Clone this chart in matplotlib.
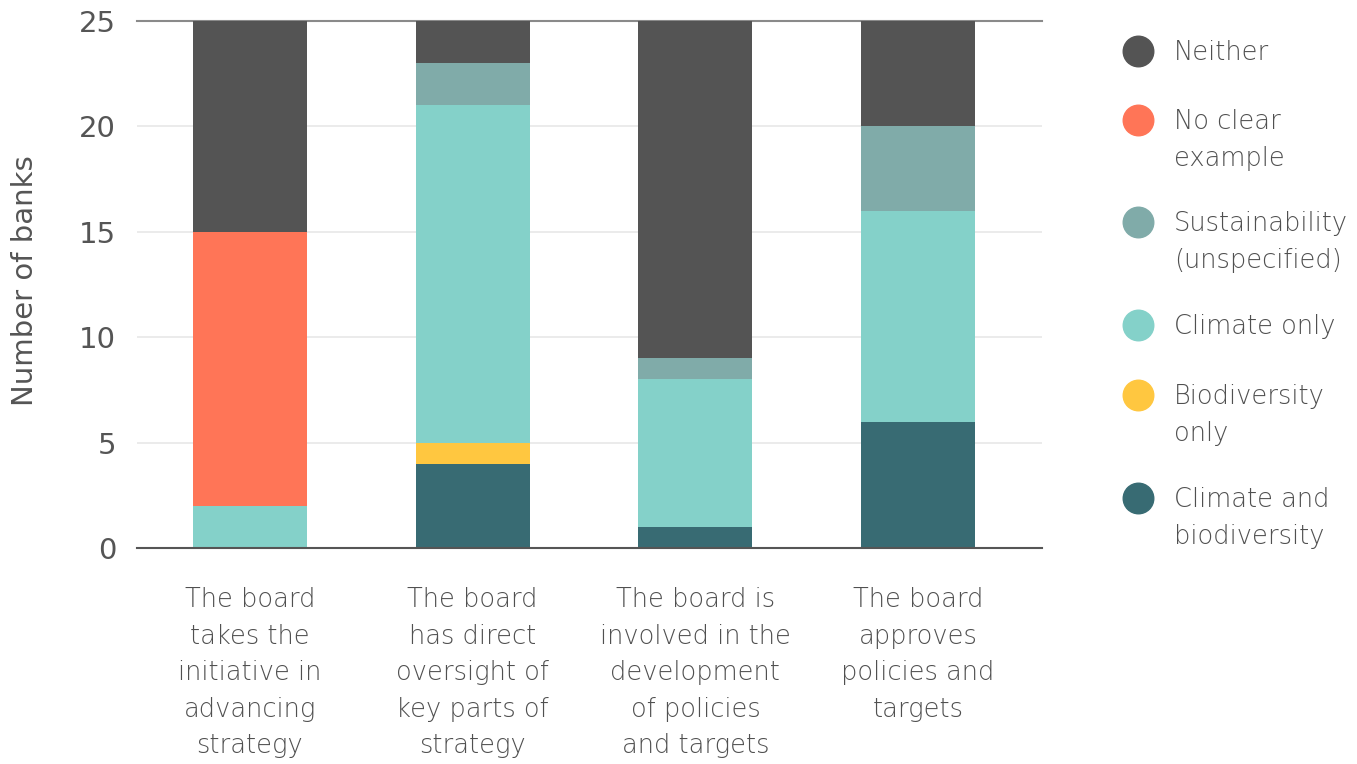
import matplotlib
matplotlib.use("Agg")
import matplotlib.pyplot as plt
import numpy as np

# ================= DADOS =================
categorias = [
    "The board\ntakes the\ninitiative in\nadvancing\nstrategy",
    "The board\nhas direct\noversight of\nkey parts of\nstrategy",
    "The board is\ninvolved in the\ndevelopment\nof policies\nand targets",
    "The board\napproves\npolicies and\ntargets",
]
# da base para o topo
series = ["Climate and\nbiodiversity", "Biodiversity\nonly", "Climate only",
          "Sustainability\n(unspecified)", "No clear\nexample", "Neither"]
clima_bio = [0, 4, 1, 6]
bio_only = [0, 1, 0, 0]
clima_only = [2, 16, 7, 10]
sustent = [0, 2, 1, 4]
sem_exemplo = [13, 0, 0, 0]
nenhum = [10, 2, 16, 5]
valores = [clima_bio, bio_only, clima_only, sustent, sem_exemplo, nenhum]
cores = ["#386B73", "#FFC740", "#84D1C9", "#80ABA9", "#FF7557", "#545454"]
yticks = [0, 5, 10, 15, 20, 25]

cinza = "#555555"
fonte = "DejaVu Sans"

# ================= FIGURA =================
fig = plt.figure(figsize=(13.57, 7.64), dpi=100)
ax = fig.add_axes([0.101, 0.2827, 0.667, 0.6898])

x = np.arange(len(categorias))
base = np.zeros(len(categorias))
for vals, cor in zip(valores, cores):
    ax.bar(x, vals, bottom=base, width=0.512, color=cor, zorder=3)
    base += np.array(vals)

ax.set_xlim(-0.507, 3.557)
ax.set_ylim(0, 25)
ax.set_yticks(yticks)
ax.set_yticklabels([str(t) for t in yticks], fontsize=21, color=cinza, family=fonte)
ax.tick_params(axis="y", length=0, pad=15)
ax.set_xticks(x)
ax.set_xticklabels(categorias, fontsize=18.5, color="#505050", family=fonte,
                   fontweight="light", linespacing=1.58)
ax.tick_params(axis="x", length=0, pad=28)

for t in yticks[1:-1]:
    ax.axhline(t, color="#e8e8e8", lw=1.2, zorder=1)

for s in ["left", "right"]:
    ax.spines[s].set_visible(False)
ax.spines["top"].set_color("#8a8a8a")
ax.spines["top"].set_linewidth(1.5)
ax.spines["bottom"].set_color(cinza)
ax.spines["bottom"].set_linewidth(1.5)
ax.spines["bottom"].set_zorder(4)

ax.set_ylabel("Number of banks", fontsize=21, color=cinza, family=fonte)
ax.yaxis.set_label_coords(-0.108, 0.508)

# ================= LEGENDA =================
W, H = 1357, 764
y_px = [51, 120, 222, 325, 395, 498]
for nome, cor, yp in zip(series[::-1], cores[::-1], y_px):
    fy = 1 - yp / H
    fig.add_artist(plt.Line2D([1138 / W], [fy], marker="o", markersize=22,
                              color=cor, transform=fig.transFigure))
    fig.text(1174 / W, fy + 11 / H, nome, fontsize=18.5, color="#505050", family=fonte,
             fontweight="light", va="top", ha="left", linespacing=1.6)

fig.savefig("out.png", dpi=100)
